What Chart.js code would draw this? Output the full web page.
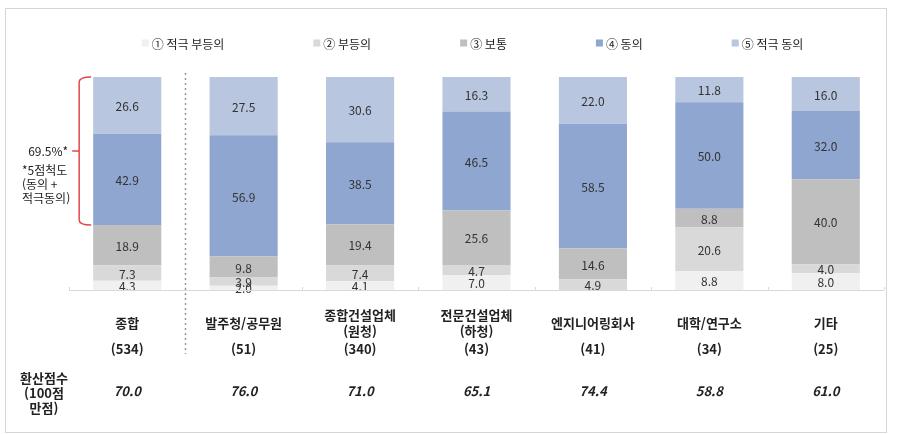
<!DOCTYPE html>
<html lang="ko">
<head>
<meta charset="utf-8">
<script src="https://cdn.jsdelivr.net/npm/chart.js@4.4.1/dist/chart.umd.min.js"></script>
<style>
    html, body { margin: 0; padding: 0; background: #fff; }
    #wrap { width: 898px; height: 434px; }
</style>
</head>
<body>
<div id="wrap"><canvas id="surveyChart" width="898" height="434"></canvas></div>
<script>
// Categories (bottom labels can be two lines)
const categoryLines = [
    ['종합'],
    ['발주청/공무원'],
    ['종합건설업체', '(원청)'],
    ['전문건설업체', '(하청)'],
    ['엔지니어링회사'],
    ['대학/연구소'],
    ['기타']
];
const counts = [534, 51, 340, 43, 41, 34, 25];
const scores = ['70.0', '76.0', '71.0', '65.1', '74.4', '58.8', '61.0'];

// Series (stacked bottom -> top)
const seriesNames = ['① 적극 부등의', '② 부등의', '③ 보통', '④ 동의', '⑤ 적극 동의'];
const strongDisagree = [4.3, 2.0, 4.1, 7.0, 0, 8.8, 8.0];
const disagree = [7.3, 3.9, 7.4, 4.7, 4.9, 20.6, 4.0];
const neutral = [18.9, 9.8, 19.4, 25.6, 14.6, 8.8, 40.0];
const agree = [42.9, 56.9, 38.5, 46.5, 58.5, 50.0, 32.0];
const strongAgree = [26.6, 27.5, 30.6, 16.3, 22.0, 11.8, 16.0];

const seriesColors = ['#f0f0f0', '#d9d9d9', '#bfbfbf', '#8fa6d0', '#b8c6df'];
const FONT = '"Noto Sans CJK KR", "Noto Sans", sans-serif';

// frame, baseline, divider, bracket, labels, legend
const decorPlugin = {
    id: 'decor',
    beforeDraw(chart) {
        const ctx = chart.ctx;
        ctx.save();
        ctx.strokeStyle = '#d6d6d6';
        ctx.lineWidth = 1;
        ctx.strokeRect(5.5, 8.5, 881, 424);
        ctx.restore();
    },
    afterDatasetsDraw(chart) {
        const ctx = chart.ctx;
        const x = chart.scales.x;
        const area = chart.chartArea;

        // value labels
        ctx.save();
        ctx.font = '12px ' + FONT;
        ctx.fillStyle = '#333';
        ctx.textAlign = 'center';
        ctx.textBaseline = 'middle';
        chart.data.datasets.forEach((ds, di) => {
            const meta = chart.getDatasetMeta(di);
            meta.data.forEach((bar, i) => {
                const v = ds.data[i];
                if (!v) return;
                ctx.fillText(v.toFixed(1), bar.x, (bar.y + bar.base) / 2 + 1);
            });
        });
        ctx.restore();

        // baseline and category ticks
        ctx.save();
        ctx.strokeStyle = '#d9d9d9';
        ctx.lineWidth = 1;
        ctx.beginPath();
        ctx.moveTo(area.left, area.bottom + 0.5);
        ctx.lineTo(area.right, area.bottom + 0.5);
        const step = (area.right - area.left) / categoryLines.length;
        for (let k = 0; k <= categoryLines.length; k++) {
            const tx = Math.round(area.left + k * step) + 0.5;
            ctx.moveTo(tx, area.bottom - 3);
            ctx.lineTo(tx, area.bottom);
        }
        ctx.stroke();
        ctx.restore();

        // dotted divider between 종합 and the groups
        const divX = Math.round((x.getPixelForValue(0) + x.getPixelForValue(1)) / 2) + 0.5;
        ctx.save();
        ctx.strokeStyle = '#999';
        ctx.lineWidth = 1.5;
        ctx.setLineDash([2, 3]);
        ctx.beginPath();
        ctx.moveTo(divX, area.top - 4);
        ctx.lineTo(divX, area.bottom + 64);
        ctx.stroke();
        ctx.restore();

        // red bracket for 동의 + 적극동의 of 종합
        const bar0 = chart.getDatasetMeta(4).data[0];
        const barAgree = chart.getDatasetMeta(3).data[0];
        const yTop = bar0.y;
        const yBot = barAgree.base;
        const bx = bar0.x - bar0.width / 2 - 14;
        const yMid = (yTop + yBot) / 2;
        ctx.save();
        ctx.strokeStyle = '#e0474c';
        ctx.lineWidth = 1.5;
        ctx.beginPath();
        ctx.moveTo(bx + 12, yTop);
        ctx.quadraticCurveTo(bx, yTop, bx, yTop + 5);
        ctx.lineTo(bx, yBot - 5);
        ctx.quadraticCurveTo(bx, yBot, bx + 12, yBot);
        ctx.moveTo(bx, yMid);
        ctx.lineTo(bx - 7, yMid);
        ctx.stroke();
        ctx.restore();

        const total = (agree[0] + strongAgree[0]).toFixed(1);
        ctx.save();
        ctx.font = '12px ' + FONT;
        ctx.fillStyle = '#222';
        ctx.textBaseline = 'middle';
        ctx.textAlign = 'right';
        ctx.fillText(total + '%*', bx - 11, yMid);
        ctx.textAlign = 'left';
        ctx.fillText('*5점척도', 22, yMid + 19);
        ctx.fillText('(동의 +', 22, yMid + 33);
        ctx.fillText('적극동의)', 22, yMid + 47);
        ctx.restore();

        // category names, counts, scores
        ctx.save();
        ctx.fillStyle = '#222';
        ctx.textAlign = 'center';
        ctx.textBaseline = 'middle';
        categoryLines.forEach((lines, i) => {
            const cx = x.getPixelForValue(i);
            ctx.font = 'bold 13px ' + FONT;
            const lh = 16;
            const start = area.bottom + 33 - (lines.length - 1) * lh / 2;
            lines.forEach((t, j) => ctx.fillText(t, cx, start + j * lh));
            ctx.fillText('(' + counts[i] + ')', cx, area.bottom + 59);
            ctx.font = 'italic bold 13px ' + FONT;
            ctx.fillText(scores[i], cx, area.bottom + 101);
        });
        ctx.font = 'bold 13px ' + FONT;
        ['환산점수', '(100점', '만점)'].forEach((t, j) => {
            ctx.fillText(t, 44, area.bottom + 88 + j * 15);
        });
        ctx.restore();

        // legend row
        ctx.save();
        ctx.font = '12px ' + FONT;
        ctx.textBaseline = 'middle';
        ctx.textAlign = 'left';
        const box = 7, gapText = 3, gapItem = 89;
        const widths = seriesNames.map(n => box + gapText + ctx.measureText(n).width);
        const totalW = widths.reduce((a, b) => a + b, 0) + gapItem * (widths.length - 1);
        let lx = (area.left + area.right) / 2 - 4 - totalW / 2;
        const ly = 43;
        seriesNames.forEach((n, i) => {
            ctx.fillStyle = seriesColors[i];
            ctx.fillRect(lx, ly - box / 2, box, box);
            ctx.fillStyle = '#222';
            ctx.fillText(n, lx + box + gapText, ly + 1);
            lx += widths[i] + gapItem;
        });
        ctx.restore();
    }
};

const seriesData = [strongDisagree, disagree, neutral, agree, strongAgree];

new Chart(document.getElementById('surveyChart'), {
    type: 'bar',
    data: {
        labels: categoryLines.map(l => l.join(' ')),
        datasets: seriesNames.map((name, i) => ({
            label: name,
            data: seriesData[i],
            backgroundColor: seriesColors[i],
            borderWidth: 0,
            categoryPercentage: 1,
            barPercentage: 0.585
        }))
    },
    options: {
        responsive: false,
        animation: false,
        layout: { padding: { top: 77, left: 69, right: 14, bottom: 144 } },
        plugins: {
            legend: { display: false },
            tooltip: { enabled: false }
        },
        scales: {
            x: { stacked: true, display: false },
            y: { stacked: true, display: false, min: 0, max: 100 }
        }
    },
    plugins: [decorPlugin]
});
</script>
</body>
</html>
